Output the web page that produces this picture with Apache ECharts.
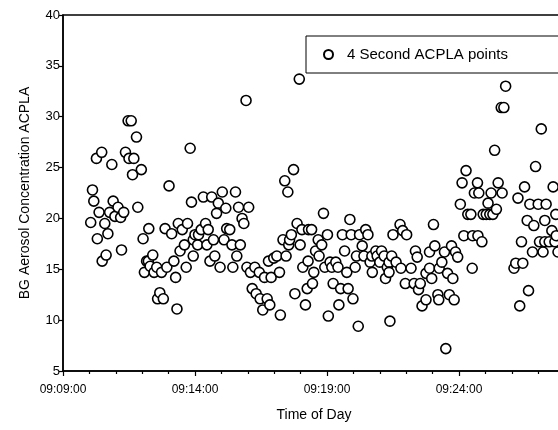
<!DOCTYPE html>
<html>
<head>
<meta charset="utf-8">
<script src="https://cdn.jsdelivr.net/npm/echarts@6/dist/echarts.min.js"></script>
<style>
  html, body { margin: 0; padding: 0; background: #fff; }
  #chart { width: 558px; height: 430px; }
</style>
</head>
<body>
<div id="chart"></div>
<script>
// seconds after 09:09:00
const secs = [
  63, 67, 70, 76, 78, 82, 88, 89, 95, 98, 102, 106, 111, 114, 118, 125, 131, 133, 138, 142,
  148, 150, 155, 158, 161, 167, 170, 178, 182, 185, 190, 194, 195, 198, 204, 207, 213, 215, 220, 224,
  228, 232, 236, 241, 247, 252, 256, 259, 262, 266, 271, 276, 280, 283, 289, 292, 296, 296, 300, 306,
  308, 314, 319, 324, 327, 330, 334, 338, 342, 345, 349, 353, 357, 362, 366, 370, 372, 379, 384, 386,
  392, 395, 399, 403, 407, 411, 416, 418, 422, 426, 430, 436, 439, 446, 448, 454, 458, 464, 467, 470,
  473, 479, 486, 492, 494, 500, 504, 507, 511, 513, 515, 519, 524, 527, 532, 537, 539, 543, 545, 551,
  555, 557, 558, 565, 567, 570, 574, 580, 582, 588, 592, 595, 601, 603, 607, 611, 614, 620, 625, 627,
  631, 635, 640, 645, 648, 652, 655, 659, 664, 667, 671, 674, 680, 684, 688, 693, 698, 702, 703, 711,
  714, 720, 724, 730, 733, 737, 741, 741, 743, 747, 750, 757, 766, 768, 772, 778, 781, 791, 798, 801,
  805, 808, 812, 816, 825, 825, 833, 833, 838, 842, 845, 852, 854, 855, 861, 867, 870, 874, 878, 883,
  886, 889, 892, 897, 903, 907, 911, 916, 920, 927, 930, 931, 935, 942, 943, 945, 952, 955, 962, 966,
  970, 973, 977, 981, 985, 989, 996, 998, 1002, 1006, 1025, 1029, 1034, 1038, 1042, 1045, 1049, 1055, 1058, 1061,
  1067, 1070, 1074, 1080, 1083, 1087, 1091, 1095, 1095, 1098, 1105, 1111, 1114, 1118, 1120, 1121, 1125
];
const acpla = [
  19.6, 22.8, 21.7, 25.9, 18.0, 20.6, 26.5, 15.8, 19.5, 16.4, 18.5, 20.6, 25.3, 21.7, 20.2, 21.1, 20.1, 16.9, 20.6, 26.5,
  29.6, 25.9, 29.6, 24.3, 25.9, 28.0, 21.1, 24.8, 18.0, 14.7, 15.8, 15.8, 19.0, 15.3, 16.4, 14.7, 15.2, 12.1, 12.7, 14.7,
  12.1, 19.0, 15.2, 23.2, 18.5, 15.8, 14.2, 11.1, 19.5, 16.8, 18.9, 17.4, 15.2, 19.5, 26.9, 21.6, 17.9, 16.3, 18.4, 17.4,
  18.4, 18.9, 22.1, 19.5, 17.4, 18.9, 15.8, 22.1, 17.9, 16.3, 20.5, 21.5, 15.2, 22.6, 17.9, 21.0, 19.0, 18.9, 17.4, 15.2,
  22.6, 16.3, 21.1, 17.4, 20.0, 19.5, 31.6, 15.2, 21.1, 14.7, 13.1, 15.2, 12.6, 14.7, 12.1, 11.0, 14.2, 12.1, 15.8, 11.5,
  14.2, 16.1, 16.3, 14.7, 10.5, 17.9, 23.7, 16.3, 22.6, 17.4, 17.9, 18.4, 24.8, 12.6, 19.5, 33.7, 17.4, 18.9, 15.2, 11.5,
  13.1, 15.8, 18.9, 18.9, 13.6, 14.7, 16.8, 17.9, 16.3, 17.4, 20.5, 15.2, 18.4, 10.4, 15.7, 15.2, 13.6, 15.7, 15.2, 11.5,
  13.1, 18.4, 16.8, 14.7, 13.1, 19.9, 18.4, 12.1, 15.2, 16.3, 9.4, 18.4, 17.3, 16.3, 18.9, 18.4, 15.7, 16.3, 14.7, 16.8,
  16.3, 15.7, 16.8, 16.3, 14.1, 15.2, 15.7, 14.7, 9.9, 16.3, 18.4, 15.7, 19.4, 15.1, 18.8, 13.6, 18.4, 15.1, 13.6, 16.8,
  16.2, 13.0, 13.6, 11.4, 14.6, 12.0, 16.7, 15.1, 14.1, 19.4, 17.3, 12.5, 12.0, 15.1, 15.7, 16.7, 7.2, 14.6, 12.5, 17.3,
  14.1, 12.0, 16.7, 16.2, 21.4, 23.5, 18.3, 24.7, 20.4, 20.4, 15.1, 18.3, 22.5, 23.5, 18.3, 22.5, 17.7, 20.4, 20.4, 21.5,
  20.4, 22.5, 20.4, 26.7, 20.9, 23.5, 30.9, 22.5, 30.9, 33.0, 15.1, 15.6, 22.0, 11.4, 17.7, 15.6, 23.1, 19.8, 12.9, 21.4,
  16.7, 19.3, 25.1, 21.4, 17.7, 28.8, 16.7, 19.8, 17.7, 21.4, 17.7, 18.8, 23.1, 17.7, 20.4, 18.3, 16.7
];
const startSec = 9 * 3600 + 9 * 60;

function fmtTime(s) {
  const t = startSec + s;
  const p = n => String(n).padStart(2, "0");
  return p(Math.floor(t / 3600)) + ":" + p(Math.floor((t % 3600) / 60)) + ":" + p(t % 60);
}

const font = "Liberation Sans";
const chart = echarts.init(document.getElementById("chart"));
chart.setOption({
  animation: false,
  textStyle: { fontFamily: font, color: "#000" },
  grid: {
    left: 63, top: 15, right: -33, bottom: 59,
    outerBoundsMode: "none",
    show: true, borderColor: "#000", borderWidth: 1.5
  },
  legend: {
    left: 306, top: 36,
    padding: [11, 80, 11, 17],
    borderColor: "#000", borderWidth: 1,
    icon: "circle", itemWidth: 9, itemHeight: 9, itemGap: 12,
    textStyle: { fontFamily: font, fontSize: 15, color: "#000", padding: [0, 0, 0, 9] },
    data: ["4 Second ACPLA points"]
  },
  xAxis: {
    type: "value",
    min: 0, max: 1200, interval: 300,
    name: "Time of Day",
    nameLocation: "middle",
    nameGap: 37,
    nameTextStyle: { fontFamily: font, fontSize: 14, color: "#000", padding: [0, 26, 0, 0] },
    axisLine: { lineStyle: { color: "#000", width: 1.5 } },
    axisTick: { length: 5, lineStyle: { color: "#000", width: 1.2 } },
    minorTick: { show: true, splitNumber: 5, length: 3, lineStyle: { color: "#000", width: 1.2 } },
    splitLine: { show: false },
    axisLabel: { fontFamily: font, fontSize: 12, color: "#000", margin: 13, formatter: v => fmtTime(v) }
  },
  yAxis: {
    type: "value",
    min: 5, max: 40, interval: 5,
    name: "BG Aerosol Concentration ACPLA",
    nameLocation: "middle",
    nameGap: 31,
    nameTextStyle: { fontFamily: font, fontSize: 14, color: "#000" },
    axisLine: { show: true, lineStyle: { color: "#000", width: 1.5 } },
    axisTick: { show: true, length: 4, lineStyle: { color: "#000", width: 1.2 } },
    splitLine: { show: false },
    axisLabel: { fontFamily: font, fontSize: 13, color: "#000", margin: 3 }
  },
  series: [{
    name: "4 Second ACPLA points",
    type: "scatter",
    symbol: "circle",
    symbolSize: 10,
    itemStyle: { color: "#fff", borderColor: "#000", borderWidth: 1.6, opacity: 1 },
    data: secs.map((s, i) => [s, acpla[i]])
  }]
});
</script>
</body>
</html>
